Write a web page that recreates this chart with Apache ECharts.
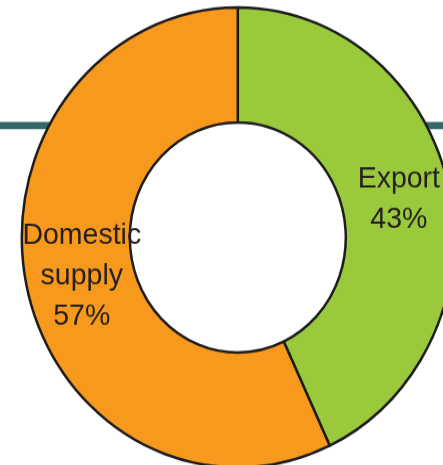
<!DOCTYPE html>
<html>
<head>
<meta charset="utf-8">
<script src="https://cdn.jsdelivr.net/npm/echarts@6/dist/echarts.min.js"></script>
<style>
  html, body { margin: 0; padding: 0; background: #ffffff; overflow: hidden; }
  #wrap { width: 443px; height: 465px; overflow: hidden; }
  /* the donut is drawn slightly taller than wide */
  #chart { width: 443px; height: 437px; transform: scaleY(1.065); transform-origin: 0 0; }
</style>
</head>
<body>
<div id="wrap"><div id="chart"></div></div>
<script>
// Share of output by destination (%)
const categories = ['Export', 'Domestic supply'];
const shares = [43, 57];
const colors = ['#9ACA3C', '#F7991D'];
// label block nudges as padding [top, right, bottom, left]
const labelPad = [[0, 0, 18, 0], [0, 0, 38, 10]];

const chart = echarts.init(document.getElementById('chart'), null, { renderer: 'canvas' });

chart.setOption({
  animation: false,
  backgroundColor: '#ffffff',
  graphic: [
    { type: 'rect', z: 0, shape: { x: 0, y: 114.6, width: 90, height: 6.6 }, style: { fill: '#336666' } },
    { type: 'rect', z: 0, shape: { x: 390, y: 114.6, width: 53, height: 6.6 }, style: { fill: '#336666' } }
  ],
  series: [{
    type: 'pie',
    z: 2,
    center: [237.8, 223],
    radius: [108, 216],
    startAngle: 90,
    clockwise: true,
    avoidLabelOverlap: false,
    labelLine: { show: false },
    itemStyle: { borderColor: '#1c1c1c', borderWidth: 2.5 },
    emphasis: { disabled: true },
    data: categories.map((name, i) => ({
      name: name,
      value: shares[i],
      itemStyle: { color: colors[i] },
      label: { padding: labelPad[i] }
    })),
    label: {
      show: true,
      position: 'inside',
      fontFamily: '"Liberation Sans", Arial, sans-serif',
      fontSize: 28.5,
      lineHeight: 38,
      color: '#231F20',
      formatter: p => p.name.replace(' ', '\n') + '\n' + p.value + '%'
    }
  }]
});
</script>
</body>
</html>
